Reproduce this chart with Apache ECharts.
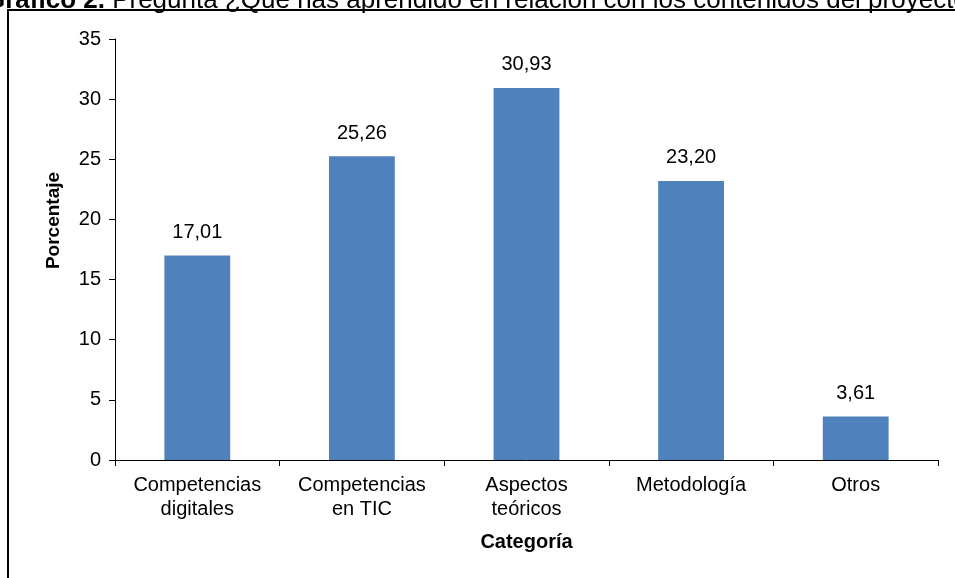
<!DOCTYPE html>
<html>
<head>
<meta charset="utf-8">
<script src="https://cdn.jsdelivr.net/npm/echarts@6/dist/echarts.min.js"></script>
<style>
html, body { margin: 0; padding: 0; background: #fff; }
#chart { width: 955px; height: 578px; }
</style>
</head>
<body>
<div id="chart"></div>
<script>
var categories = ['Competencias\ndigitales', 'Competencias\nen TIC', 'Aspectos\nteóricos', 'Metodología', 'Otros'];
var values = [17.01, 25.26, 30.93, 23.20, 3.61];
var yTicks = { min: 0, max: 35, interval: 5 };

var font = '"Liberation Sans", Arial, sans-serif';

function drawBargraph(id) {
    var chart = echarts.init(document.getElementById(id));
    var option = {
        animation: false,
        textStyle: { fontFamily: font },
        title: {
            text: '{b|Gráfico 2.} Pregunta ¿Qué has aprendido en relación con los contenidos del proyecto?',
            left: -20,
            top: -17,
            textStyle: {
                fontFamily: font,
                fontSize: 26,
                fontWeight: 'normal',
                color: '#000',
                rich: {
                    b: { fontFamily: font, fontSize: 26, fontWeight: 'bold', color: '#000' }
                }
            }
        },
        graphic: [{
            type: 'rect',
            shape: { x: 8, y: 10, width: 1000, height: 620 },
            style: { fill: '#fff', stroke: '#000', lineWidth: 2 },
            z: -1,
            silent: true
        }],
        grid: {
            left: 115,
            right: 17,
            top: 39,
            bottom: 118
        },
        xAxis: {
            type: 'category',
            data: categories,
            name: 'Categoría',
            nameLocation: 'middle',
            nameGap: 72,
            nameTextStyle: { fontFamily: font, fontSize: 20, fontWeight: 'bold', color: '#000' },
            axisLine: { lineStyle: { color: '#000', width: 1 } },
            axisTick: { show: true, length: 6, lineStyle: { color: '#000' } },
            axisLabel: { fontFamily: font, fontSize: 20, color: '#000', margin: 13, lineHeight: 24, interval: 0 }
        },
        yAxis: {
            type: 'value',
            min: yTicks.min,
            max: yTicks.max,
            interval: yTicks.interval,
            name: 'Porcentaje',
            nameLocation: 'middle',
            nameGap: 52,
            nameTextStyle: { fontFamily: font, fontSize: 19, fontWeight: 'bold', color: '#000', padding: [0, 0, 0, 58] },
            splitLine: { show: false },
            axisLine: { show: true, lineStyle: { color: '#000', width: 1 } },
            axisTick: { show: true, length: 6, lineStyle: { color: '#000' } },
            axisLabel: { fontFamily: font, fontSize: 20, color: '#000', margin: 14 }
        },
        series: [{
            type: 'bar',
            data: values,
            barWidth: '40%',
            itemStyle: { color: '#4F81BD' },
            label: {
                show: true,
                position: 'top',
                distance: 13,
                fontFamily: font,
                fontSize: 20,
                color: '#000',
                formatter: function (p) {
                    return p.value.toFixed(2).replace('.', ',');
                }
            }
        }]
    };
    chart.setOption(option);
    window.onresize = function () {
        chart.resize();
    };
}

drawBargraph('chart');
</script>
</body>
</html>
